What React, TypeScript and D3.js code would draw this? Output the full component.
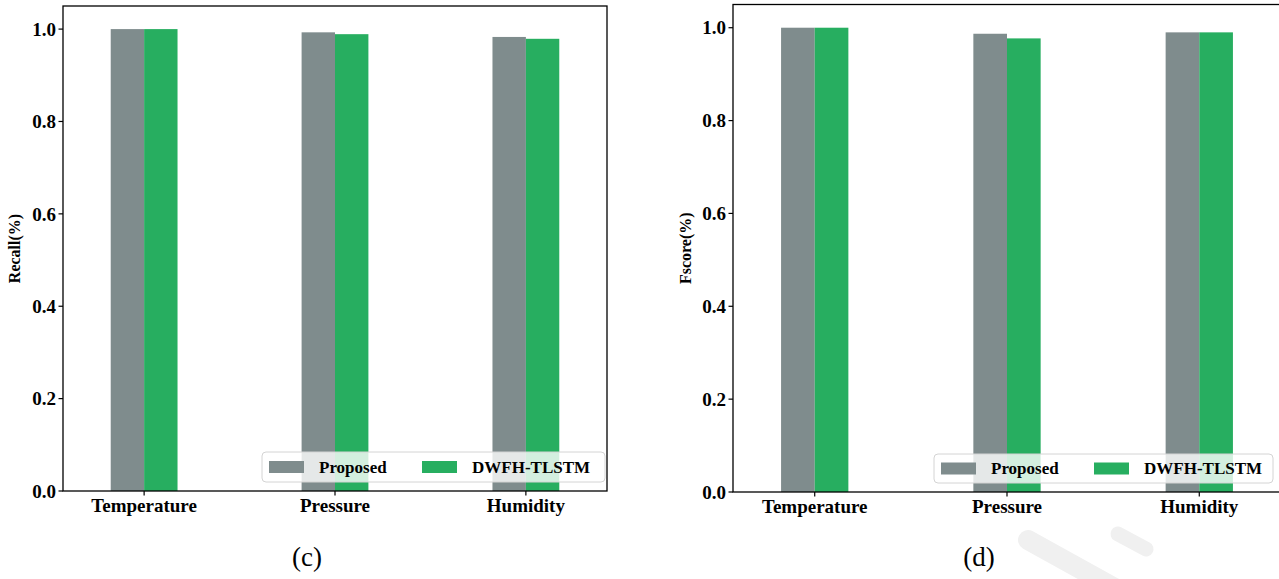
import React from 'react';
import * as d3 from 'd3';

// chart data
const categories = ['Temperature', 'Pressure', 'Humidity'];
const seriesNames = ['Proposed', 'DWFH-TLSTM'];
const recallProposed = [1.0, 0.993, 0.983];
const recallDwfh = [1.0, 0.989, 0.979];
const fscoreProposed = [1.0, 0.987, 0.99];
const fscoreDwfh = [1.0, 0.977, 0.99];
const yTicks = [0, 0.2, 0.4, 0.6, 0.8, 1.0];

const GRAY = '#7f8c8d';
const GREEN = '#27ae60';
const FONT = '"Liberation Serif", "Times New Roman", serif';

const Panel = ({ a, b, yLabel, tag, left, right, top, bottom, legend, labelX }) => {
  // x runs over category index, like matplotlib's bar positions
  const x = d3.scaleLinear().domain([-0.425, 2.425]).range([left, right]);
  const y = d3.scaleLinear().domain([0, 1.05]).range([bottom, top]);
  const w = 0.175;

  return (
    <g>
      {categories.map((c, i) => (
        <g key={c}>
          <rect x={x(i - w)} y={y(a[i])} width={x(w) - x(0)} height={y(0) - y(a[i])} fill={GRAY} />
          <rect x={x(i)} y={y(b[i])} width={x(w) - x(0)} height={y(0) - y(b[i])} fill={GREEN} />
        </g>
      ))}

      {/* frame */}
      <rect x={left} y={top} width={right - left} height={bottom - top} fill="none" stroke="#000" strokeWidth={1.3} />

      {/* y axis */}
      {yTicks.map((t) => (
        <g key={t} transform={`translate(${left},${y(t)})`}>
          <line x1={-4.5} x2={0} stroke="#000" strokeWidth={1.2} />
          <text x={-7} dy="0.35em" textAnchor="end" fontFamily={FONT} fontWeight="bold" fontSize={19}>
            {d3.format('.1f')(t)}
          </text>
        </g>
      ))}
      <text
        transform={`translate(${labelX},${(top + bottom) / 2}) rotate(-90)`}
        textAnchor="middle"
        fontFamily={FONT}
        fontWeight="bold"
        fontSize={16}
      >
        {yLabel}
      </text>

      {/* x axis */}
      {categories.map((c, i) => (
        <g key={c} transform={`translate(${x(i)},${bottom})`}>
          <line y1={0} y2={4.5} stroke="#000" strokeWidth={1.2} />
          <text y={21} textAnchor="middle" fontFamily={FONT} fontWeight="bold" fontSize={19}>
            {c}
          </text>
        </g>
      ))}

      {/* legend */}
      <g transform={`translate(${legend.x},${legend.y})`}>
        <rect width={legend.w} height={legend.h} rx={4} fill="#fff" fillOpacity={0.8} stroke="#d4d4d4" strokeWidth={1} />
        {seriesNames.map((s, i) => (
          <g key={s} transform={`translate(${7 + i * 153},0)`}>
            <rect x={0} y={legend.h / 2 - 6} width={35} height={12} fill={i === 0 ? GRAY : GREEN} />
            <text x={50} y={legend.h / 2} dy="0.35em" fontFamily={FONT} fontWeight="bold" fontSize={17}>
              {s}
            </text>
          </g>
        ))}
      </g>

      <text x={(left + right) / 2 - 28} y={566} textAnchor="middle" fontFamily={FONT} fontSize={27}>
        {tag}
      </text>
    </g>
  );
};

const App = () => {
  return (
    <svg width={1279} height={579} style={{ position: 'absolute', left: 0, top: 0, background: '#fff' }}>
      {/* faint watermark strokes */}
      <g stroke="#f0f0f0" strokeLinecap="round" fill="none">
        <line x1={1028} x2={1140} y1={540} y2={602} strokeWidth={20} />
        <line x1={1118} x2={1146} y1={534} y2={549} strokeWidth={15} />
      </g>
      <Panel
        a={recallProposed}
        b={recallDwfh}
        yLabel="Recall(%)"
        tag="(c)"
        left={63}
        right={607}
        top={6}
        bottom={491}
        labelX={20}
        legend={{ x: 262, y: 452, w: 343, h: 30 }}
      />
      <Panel
        a={fscoreProposed}
        b={fscoreDwfh}
        yLabel="Fscore(%)"
        tag="(d)"
        left={733}
        right={1281}
        top={4.5}
        bottom={492}
        labelX={691}
        legend={{ x: 934, y: 454, w: 339, h: 29 }}
      />
    </svg>
  );
};

export default App;
